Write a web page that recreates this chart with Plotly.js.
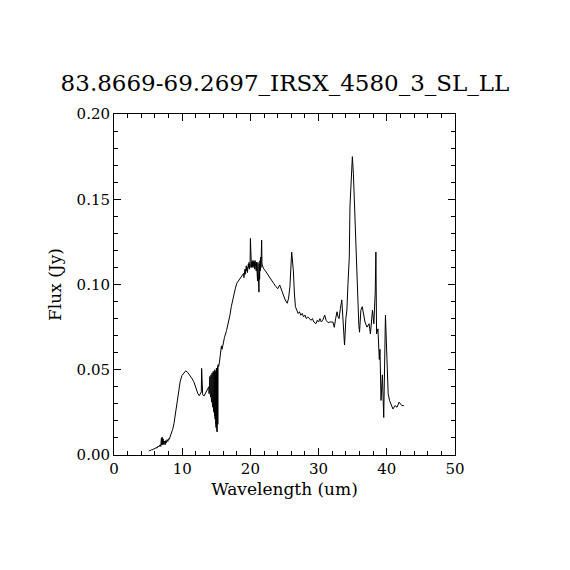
<!DOCTYPE html>
<html>
<head>
<meta charset="utf-8">
<script src="https://cdn.plot.ly/plotly-3.0.1.min.js"></script>
<style>html,body{margin:0;padding:0;background:#fff;}#chart{width:570px;height:570px;}</style>
</head>
<body>
<div id="chart"></div>
<script>
const chartTitle = "83.8669-69.2697_IRSX_4580_3_SL_LL";
const xLabel = "Wavelength (um)";
const yLabel = "Flux (Jy)";

// Segment 1: short-wavelength noisy part
const wl1 = [5.10,5.25,5.40,5.55,5.70,5.85,6.00,6.15,6.30,6.45,6.60,6.75,6.85,6.95,7.00,7.05,7.15,7.20,7.30,7.40,7.50,7.60,7.70,7.80,7.90,8.00,8.10,8.20,8.30];
const fl1 = [0.0022,0.0028,0.0026,0.0033,0.0030,0.0038,0.0036,0.0045,0.0040,0.0052,0.0048,0.0060,0.0050,0.0098,0.0058,0.0105,0.0060,0.0095,0.0062,0.0082,0.0060,0.0085,0.0072,0.0090,0.0080,0.0095,0.0092,0.0105,0.0112];

// Segment 2: silicate bump
const wl2 = [8.45,8.6,8.8,9.0,9.2,9.4,9.7,9.95,10.2,10.5,10.8,11.1,11.4,11.7,11.9,12.1,12.3,12.5,12.7,12.8,12.85,12.92,13.0,13.2,13.5,13.8];
const fl2 = [0.0123,0.015,0.0186,0.024,0.030,0.037,0.043,0.0465,0.048,0.0493,0.0485,0.047,0.045,0.043,0.0405,0.038,0.036,0.0348,0.036,0.037,0.0508,0.036,0.0355,0.0346,0.037,0.039];

// Segment 3: dense oscillating region
const wl3 = [13.90,13.94,13.98,14.02,14.06,14.10,14.14,14.18,14.22,14.26,14.30,14.34,14.38,14.42,14.46,14.50,14.54,14.58,14.62,14.66,14.70,14.74,14.78,14.82,14.86,14.90,14.94,14.98,15.02,15.06,15.10,15.14,15.18,15.22,15.26,15.30,15.35];
const fl3 = [0.040,0.036,0.044,0.037,0.046,0.036,0.045,0.034,0.047,0.033,0.046,0.031,0.048,0.030,0.047,0.028,0.049,0.027,0.048,0.025,0.049,0.023,0.050,0.021,0.049,0.018,0.050,0.016,0.051,0.014,0.050,0.0135,0.052,0.018,0.053,0.048,0.052];

// Segment 4: steep rise
const wl4 = [15.45,15.6,15.75,15.85,16.0,16.2,16.5,16.8,17.0,17.2,17.5,17.75,18.0,18.25,18.5,18.75,19.0];
const fl4 = [0.054,0.058,0.064,0.062,0.066,0.069,0.073,0.078,0.082,0.087,0.093,0.097,0.1007,0.102,0.1036,0.105,0.1065];

// Segment 5: noisy plateau
const wl5 = [19.05,19.1,19.15,19.2,19.25,19.3,19.35,19.4,19.45,19.5,19.55,19.6,19.65,19.7,19.75,19.8,19.85,19.9,19.95,20.0,20.05,20.1,20.15,20.2,20.25,20.3,20.35,20.4,20.45,20.5,20.55,20.6,20.65,20.7,20.75,20.8,20.85,20.9,20.95,21.0,21.05,21.1,21.15,21.2,21.25,21.3,21.35,21.4,21.45,21.5,21.55,21.6,21.65,21.7,21.8,21.9];
const fl5 = [0.104,0.108,0.105,0.109,0.106,0.110,0.107,0.111,0.108,0.110,0.107,0.112,0.109,0.112,0.110,0.113,0.109,0.112,0.110,0.127,0.110,0.112,0.110,0.113,0.111,0.114,0.110,0.113,0.111,0.114,0.110,0.113,0.109,0.114,0.111,0.112,0.108,0.113,0.105,0.112,0.102,0.113,0.098,0.111,0.0955,0.112,0.103,0.114,0.108,0.116,0.110,0.118,0.126,0.112,0.110,0.1095];

// Segment 6: long-wavelength part
const wl6 = [22.2,22.5,22.8,23.1,23.4,23.7,24.0,24.3,24.5,24.8,25.1,25.4,25.6,25.8,25.95,26.05,26.15,26.3,26.45,26.6,26.8,27.0,27.2,27.4,27.6,27.8,28.0,28.2,28.4,28.7,28.9,29.1,29.3,29.6,29.8,30.0,30.2,30.4,30.6,30.9,31.1,31.4,31.7,32.1,32.3,32.5,32.7,32.85,33.0,33.2,33.4,33.6,33.8,34.0,34.15,34.3,34.5,34.6,34.8,34.95,35.1,35.25,35.5,35.7,35.9,36.0,36.2,36.4,36.6,36.8,37.1,37.4,37.6,37.9,38.1,38.3,38.4,38.5,38.7,38.9,39.0,39.15,39.35,39.55,39.8,40.0,40.2,40.4,40.6,40.9,41.2,41.5,41.8,42.2,42.5];
const fl6 = [0.108,0.106,0.104,0.102,0.1007,0.099,0.0975,0.0997,0.0975,0.094,0.091,0.089,0.092,0.099,0.112,0.119,0.115,0.108,0.095,0.087,0.085,0.083,0.084,0.082,0.083,0.081,0.082,0.080,0.081,0.080,0.079,0.080,0.078,0.077,0.079,0.078,0.080,0.078,0.079,0.082,0.079,0.0776,0.078,0.078,0.0749,0.080,0.084,0.081,0.080,0.086,0.091,0.078,0.0645,0.080,0.085,0.100,0.116,0.146,0.166,0.175,0.165,0.146,0.120,0.093,0.076,0.072,0.085,0.087,0.082,0.078,0.075,0.077,0.071,0.085,0.077,0.095,0.119,0.071,0.074,0.056,0.062,0.032,0.047,0.022,0.082,0.052,0.036,0.032,0.030,0.027,0.029,0.028,0.031,0.029,0.029];

const xTickVals = [0,10,20,30,40,50];
const xTickText = ["0","10","20","30","40","50"];
const yTickVals = [0,0.05,0.10,0.15,0.20];
const yTickText = ["0.00","0.05","0.10","0.15","0.20"];

const wavelength = [].concat(wl1, wl2, wl3, wl4, wl5, wl6);
const flux = [].concat(fl1, fl2, fl3, fl4, fl5, fl6);

const fontFam = "DejaVu Serif, Liberation Serif, serif";

const trace = {
  x: wavelength, y: flux, type: 'scatter', mode: 'lines',
  line: {color: '#000', width: 1}, hoverinfo: 'skip'
};

const axisCommon = {
  showgrid: false, zeroline: false, showline: true, linecolor: '#000', linewidth: 1,
  mirror: 'ticks', ticks: 'inside', ticklen: 7, tickcolor: '#000', tickwidth: 1,
  tickfont: {family: fontFam, size: 15, color: '#000'}
};

const layout = {
  width: 570, height: 570,
  margin: {l: 114, r: 115, t: 114, b: 115},
  paper_bgcolor: '#fff', plot_bgcolor: '#fff',
  showlegend: false,
  title: {text: chartTitle, font: {family: fontFam, size: 23, color: '#000'}, x: 0.5, xanchor: 'center', y: 0.855, yanchor: 'middle'},
  xaxis: Object.assign({}, axisCommon, {
    range: [0, 50], tickmode: 'array', tickvals: xTickVals, ticktext: xTickText,
    minor: {dtick: 2, ticks: 'inside', ticklen: 4, tickcolor: '#000', tickwidth: 1},
    title: {text: xLabel, font: {family: fontFam, size: 17, color: '#000'}, standoff: 6}
  }),
  yaxis: Object.assign({}, axisCommon, {
    range: [0, 0.20], tickmode: 'array', tickvals: yTickVals, ticktext: yTickText,
    minor: {dtick: 0.01, ticks: 'inside', ticklen: 4, tickcolor: '#000', tickwidth: 1},
    title: {text: yLabel, font: {family: fontFam, size: 17, color: '#000'}, standoff: 10}
  })
};

Plotly.newPlot('chart', [trace], layout, {staticPlot: true, displayModeBar: false});
</script>
</body>
</html>
